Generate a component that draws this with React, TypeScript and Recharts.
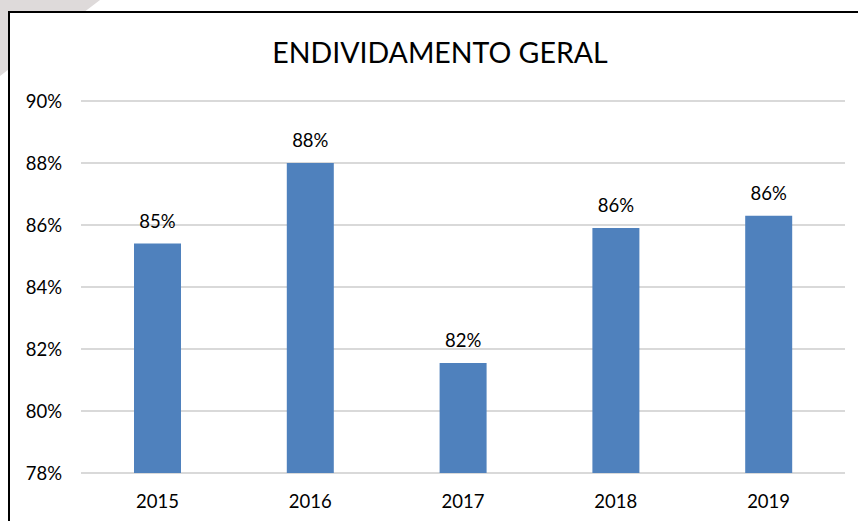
import { BarChart, Bar, XAxis, YAxis, CartesianGrid, LabelList } from "recharts";

const years = ["2015", "2016", "2017", "2018", "2019"];
const endividamento = [85.4, 88.0, 81.55, 85.9, 86.3];
const yTicks = [78, 80, 82, 84, 86, 88, 90];

const data = years.map((year, i) => ({ year, value: endividamento[i] }));

const font = "Lato, 'Open Sans', sans-serif";

export default function App() {
  return (
    <div
      style={{
        position: "absolute",
        top: 0,
        left: 0,
        width: 858,
        height: 521,
        overflow: "hidden",
        background: "#fff",
        fontFamily: font,
      }}
    >
      {/* grey corner shape behind the frame */}
      <div
        style={{
          position: "absolute",
          top: 0,
          left: 0,
          width: 100,
          height: 76,
          background: "#dedada",
          clipPath: "polygon(0 0, 100% 0, 0 100%)",
        }}
      />
      <div
        style={{
          position: "absolute",
          top: 11,
          left: 8,
          width: 900,
          height: 600,
          border: "2px solid #000",
          background: "#fff",
        }}
      />
      <div
        style={{
          position: "absolute",
          top: 35,
          left: 0,
          width: 880,
          textAlign: "center",
          fontSize: 28.5,
          lineHeight: "34px",
          color: "#000",
        }}
      >
        ENDIVIDAMENTO GERAL
      </div>
      <div style={{ position: "absolute", top: 0, left: 0 }}>
        <BarChart
          width={858}
          height={521}
          data={data}
          margin={{ top: 101, right: 13, left: 0, bottom: 0 }}
        >
          <CartesianGrid vertical={false} stroke="#d9d9d9" strokeWidth={2} />
          <XAxis
            dataKey="year"
            axisLine={false}
            tickLine={false}
            tickSize={0}
            tickMargin={22}
            height={48}
            tick={{ fontSize: 18.5, fill: "#000", fontFamily: font }}
          />
          <YAxis
            domain={[78, 90]}
            ticks={yTicks}
            width={81}
            axisLine={false}
            tickLine={false}
            tickSize={0}
            tickMargin={19}
            tickFormatter={(v: number) => `${v}%`}
            tick={{ fontSize: 18.5, fill: "#000", fontFamily: font }}
          />
          <Bar dataKey="value" fill="#4f81bd" barSize={47} isAnimationActive={false}>
            <LabelList
              dataKey="value"
              position="top"
              offset={16}
              formatter={(v: number) => `${Math.round(v)}%`}
              style={{ fontSize: 18.5, fill: "#000", fontFamily: font }}
            />
          </Bar>
        </BarChart>
      </div>
    </div>
  );
}
